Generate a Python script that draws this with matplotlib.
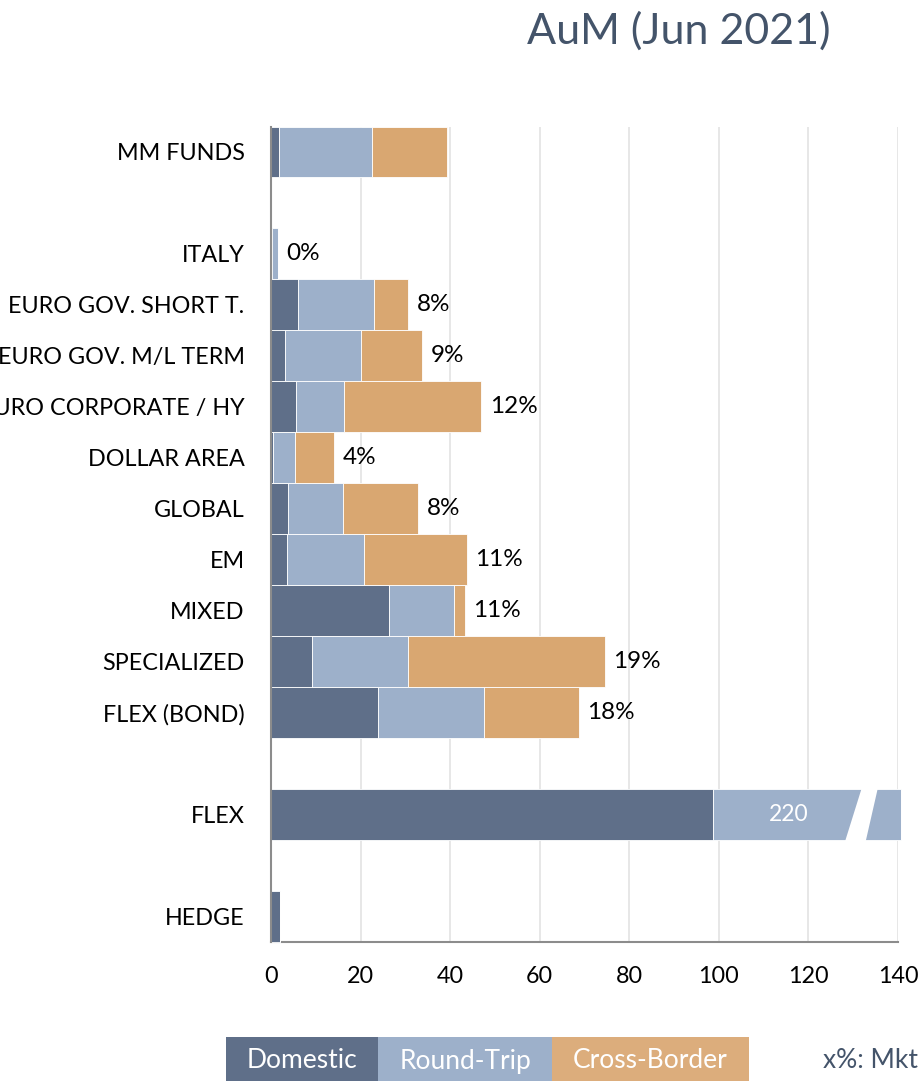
import numpy as np
import matplotlib
matplotlib.use("Agg")
from matplotlib import pyplot as plt
from matplotlib.patches import Rectangle, Polygon

plt.rcParams['font.family'] = ['Lato', 'DejaVu Sans']

# groups of categories, one blank row between groups
groups = [
    ["MM FUNDS"],
    ["ITALY", "EURO GOV. SHORT T.", "EURO GOV. M/L TERM", "EURO CORPORATE / HY",
     "DOLLAR AREA", "GLOBAL", "EM", "MIXED", "SPECIALIZED", "FLEX (BOND)"],
    ["FLEX"],
    ["HEDGE"],
]
categories = [c for g in groups for c in g]

domestic = [1.8, 0.3, 6.0, 3.2, 5.5, 0.5, 3.9, 3.6, 26.3, 9.2, 23.9, 98.7, 1.9]
round_trip = [20.7, 1.2, 17.1, 17.0, 10.9, 4.9, 12.2, 17.2, 14.6, 21.5, 23.7, 220.0, 0.0]
cross_border = [16.8, 0.1, 7.6, 13.6, 30.6, 8.7, 16.8, 23.0, 2.4, 43.9, 21.2, 0.0, 0.0]
mkt_share = [None, "0%", "8%", "9%", "12%", "4%", "8%", "11%", "11%", "19%", "18%", None, None]

legend_labels = ["Domestic", "Round-Trip", "Cross-Border"]
colors = ["#5F6F89", "#9DB0CA", "#D9A771"]
legend_colors = ["#5F6F89", "#9DB0CA", "#DCAD7C"]

x_max = 140
bar_cap = 140.7      # broken bar drawn up to here
title_color = "#44546A"

# row positions
ypos = []
row = 0
for g in groups:
    for _ in g:
        ypos.append(row)
        row += 1
    row += 1
ypos = np.array(ypos)

fig = plt.figure(figsize=(9.22, 10.81), dpi=100)
ax = fig.add_axes([271 / 922, 139 / 1081, 627 / 922, 815.5 / 1081])

left = np.zeros(len(categories))
for vals, col in zip([domestic, round_trip, cross_border], colors):
    vals = np.array(vals, dtype=float)
    widths = np.minimum(left + vals, bar_cap) - left
    widths = np.clip(widths, 0, None)
    ax.barh(ypos, widths, left=left, height=1.0, color=col,
            edgecolor="white", linewidth=0.6, zorder=3, clip_on=False)
    left = left + widths

# percent labels at the end of each stacked bar
for y, lab, tot in zip(ypos, mkt_share, left):
    if lab is None:
        continue
    ax.annotate(lab, (tot, y), xytext=(6, 0), textcoords="offset points",
                ha="left", va="center", fontsize=17.5, color="black", zorder=5)

# broken bar for FLEX
flex_i = categories.index("FLEX")
fy = ypos[flex_i]
gap = Polygon([(128.2, fy + 0.52), (131.9, fy - 0.52), (135.5, fy - 0.52), (132.8, fy + 0.52)],
              closed=True, facecolor="white", edgecolor="none", zorder=4)
ax.add_patch(gap)
flex_label_x = (domestic[flex_i] + 132.5) / 2
ax.text(flex_label_x, fy, f"{round_trip[flex_i]:.0f}", ha="center", va="center",
        fontsize=16.5, color="white", zorder=5)

ax.set_xlim(0, x_max)
ax.set_ylim(ypos[-1] + 0.5, -0.5)
ax.set_xticks(np.arange(0, x_max + 1, 20))
ax.set_yticks(ypos)
ax.set_yticklabels(categories)
ax.tick_params(axis="both", length=0, labelsize=16.8, colors="black")
ax.tick_params(axis="x", pad=17)
ax.tick_params(axis="y", pad=19)
ax.grid(axis="x", color="#E3E3E3", linewidth=1.2, zorder=0)
for s in ["top", "right"]:
    ax.spines[s].set_visible(False)
for s in ["left", "bottom"]:
    ax.spines[s].set_color("#8C8C8C")
    ax.spines[s].set_linewidth(1.5)
ax.spines["left"].set_zorder(6)

fig.text(679 / 922, 1 - 31 / 1081, "AuM (Jun 2021)", ha="center", va="center",
         fontsize=31, color=title_color)

# legend as coloured boxes at the bottom
edges = [226, 378, 552, 749]
for i, (lab, col) in enumerate(zip(legend_labels, legend_colors)):
    x0, x1 = edges[i] / 922, edges[i + 1] / 922
    fig.patches.append(Rectangle((x0, -0.01), x1 - x0, 0.01 + 44 / 1081,
                                 transform=fig.transFigure, facecolor=col,
                                 edgecolor="none"))
    fig.text((x0 + x1) / 2, 1 - 1061 / 1081, lab, ha="center", va="center",
             fontsize=19, color="white")

fig.text(823 / 922, 1 - 1061 / 1081, "x%: Mkt share", ha="left", va="center",
         fontsize=19, color=title_color)

fig.savefig("out.png", dpi=100)
